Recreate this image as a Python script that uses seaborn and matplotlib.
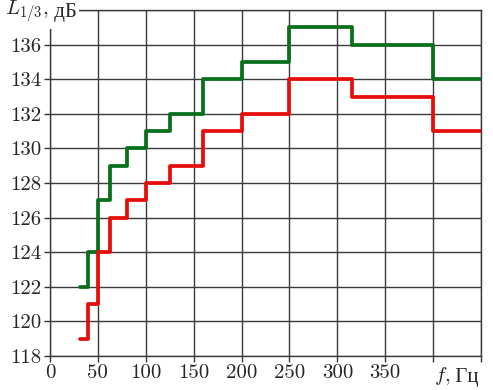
import matplotlib
matplotlib.use("Agg")
import matplotlib.pyplot as plt
import pandas as pd
import seaborn as sns

# third-octave band edges, Hz
band_edges = [31.5, 40, 50, 63, 80, 100, 125, 160, 200, 250, 315, 400, 450]
level_green = [122, 124, 127, 129, 130, 131, 132, 134, 135, 137, 136, 134]
level_red = [119, 121, 124, 126, 127, 128, 129, 131, 132, 134, 133, 131]

x_ticks = [0, 50, 100, 150, 200, 250, 300, 350, 400, 450]
x_tick_labels = ["0", "50", "100", "150", "200", "250", "300", "350", "", ""]
y_ticks = [118, 120, 122, 124, 126, 128, 130, 132, 134, 136, 138]
y_tick_labels = ["118", "120", "122", "124", "126", "128", "130", "132", "134", "136", ""]

# steps-post needs the last level repeated at the right edge
df = pd.concat([
    pd.DataFrame({"f": band_edges, "L": level_green + level_green[-1:], "s": "green"}),
    pd.DataFrame({"f": band_edges, "L": level_red + level_red[-1:], "s": "red"}),
])

sns.set_style("ticks")
plt.rcParams["font.family"] = ["cmr10", "Liberation Serif"]
plt.rcParams["mathtext.fontset"] = "cm"
plt.rcParams["axes.formatter.use_mathtext"] = True

fig = plt.figure(figsize=(4.93, 3.90), dpi=100)
ax = fig.add_axes([50 / 493, 34 / 390, 431 / 493, 346 / 390])

sns.lineplot(data=df, x="f", y="L", hue="s", palette={"green": "#08701c", "red": "#e60d0a"},
             drawstyle="steps-post", linewidth=2.7, legend=False, ax=ax, zorder=3)

ax.set_xlim(0, 450)
ax.set_ylim(118, 138)
ax.set_xticks(x_ticks)
ax.set_xticklabels(x_tick_labels)
ax.set_yticks(y_ticks)
ax.set_yticklabels(y_tick_labels)
ax.tick_params(direction="out", length=4, width=1, color="#333333", labelsize=15, pad=2)
ax.grid(True, color="#3a3a3a", linewidth=1.0)
for sp in ax.spines.values():
    sp.set_color("#3a3a3a")
    sp.set_linewidth(1.0)
ax.set_xlabel("")
ax.set_ylabel("")

# y label: math part + cyrillic part as separate texts, white box hides the frame
ylab = fig.text(5 / 493, 1 - 12 / 390, r"$L_{1/3}$,", fontsize=15, va="center", ha="left",
                bbox=dict(facecolor="white", edgecolor="none", pad=3), zorder=10)
ax.annotate(" дБ", xy=(1, 0.5), xycoords=ylab, va="center", ha="left", fontsize=15,
            family="Liberation Serif",
            bbox=dict(facecolor="white", edgecolor="none", pad=2), zorder=10,
            annotation_clip=False)

xlab = ax.text(418, 116.55, r"$f$,", fontsize=15, ha="right", va="baseline", clip_on=False)
ax.annotate(" Гц", xy=(1, 0), xycoords=xlab, va="bottom", ha="left", fontsize=15,
            family="Liberation Serif", annotation_clip=False)

fig.savefig("out.png", dpi=100, facecolor="white")
